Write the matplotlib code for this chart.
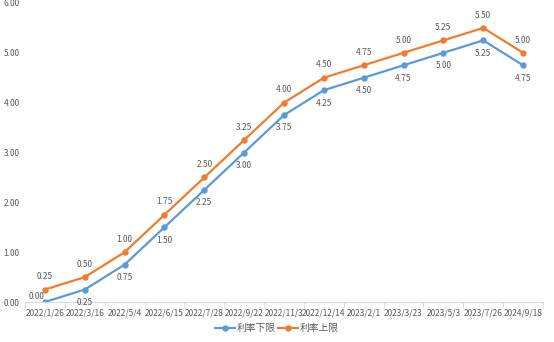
import matplotlib.pyplot as plt
import numpy as np

plt.rcParams['font.family'] = ['Noto Sans CJK SC', 'DejaVu Sans']

dates = ["2022/1/26", "2022/3/16", "2022/5/4", "2022/6/15", "2022/7/28",
         "2022/9/22", "2022/11/3", "2022/12/14", "2023/2/1", "2023/3/23",
         "2023/5/3", "2023/7/26", "2024/9/18"]
lower = [0.00, 0.25, 0.75, 1.50, 2.25, 3.00, 3.75, 4.25, 4.50, 4.75, 5.00, 5.25, 4.75]
upper = [0.25, 0.50, 1.00, 1.75, 2.50, 3.25, 4.00, 4.50, 4.75, 5.00, 5.25, 5.50, 5.00]

blue = "#5B9BD5"
orange = "#ED7D31"
gray = "#595959"

fig = plt.figure(figsize=(5.54, 3.42), dpi=100)
ax = fig.add_axes([25 / 554, 40 / 342, 518 / 554, 299 / 342])

x = np.arange(len(dates))
ax.plot(x, lower, color=blue, lw=1.6, marker="o", ms=3.6, label="利率下限")
ax.plot(x, upper, color=orange, lw=1.6, marker="o", ms=3.6, label="利率上限")

for i in x:
    ax.annotate("%.2f" % upper[i], (i, upper[i]), xytext=(0, 6), textcoords="offset points",
                ha="center", va="bottom", fontsize=6, color=gray)
    if i == 0:
        ax.annotate("%.2f" % lower[i], (i, lower[i]), xytext=(-6, 1), textcoords="offset points",
                    ha="center", va="bottom", fontsize=6, color=gray)
    else:
        ax.annotate("%.2f" % lower[i], (i, lower[i]), xytext=(0, -6), textcoords="offset points",
                    ha="center", va="top", fontsize=6, color=gray)

ax.set_xlim(-0.5, len(dates) - 0.5)
ax.set_ylim(0, 6)
ax.set_yticks(np.arange(0, 7, 1))
ax.set_yticklabels(["%.2f" % v for v in np.arange(0, 7, 1)])
ax.set_xticks(x)
ax.set_xticklabels(dates)
ax.set_xticks(np.arange(-0.5, len(dates), 1), minor=True)
ax.tick_params(axis="x", which="major", length=0, labelsize=6, colors=gray, pad=5)
ax.tick_params(axis="x", which="minor", length=4, color="#D9D9D9")
ax.tick_params(axis="y", length=0, labelsize=6, colors=gray, pad=4)

for s in ["top", "right", "left"]:
    ax.spines[s].set_visible(False)
ax.spines["bottom"].set_color("#D9D9D9")

leg = fig.legend(loc="lower center", bbox_to_anchor=(0.5, 0.0), ncol=2, frameon=False,
                 fontsize=7, handlelength=2.0, columnspacing=0.3, handletextpad=0.2)
for t in leg.get_texts():
    t.set_color(gray)

fig.savefig("out.png", dpi=100)
